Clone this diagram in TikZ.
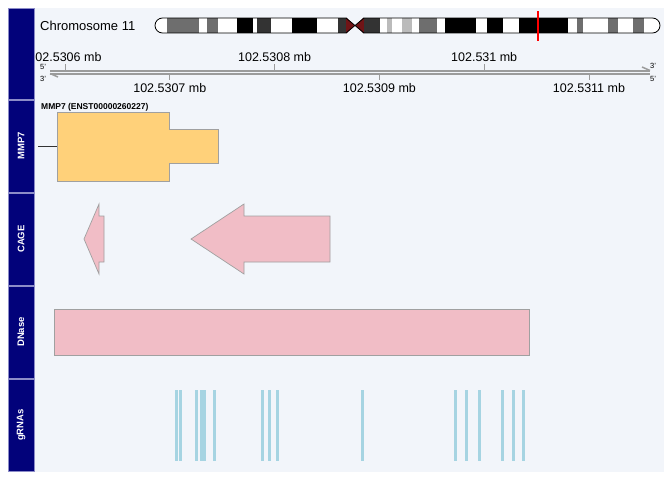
\documentclass[tikz,border=0pt]{standalone}
\usepackage{fontspec}
\setmainfont{Liberation Sans}
\definecolor{panel}{RGB}{242,245,250}
\definecolor{navy}{RGB}{2,2,122}
\definecolor{navyedge}{RGB}{140,140,200}
\definecolor{genefill}{RGB}{255,209,122}
\definecolor{pinkfill}{RGB}{241,189,198}
\definecolor{shapeedge}{RGB}{160,160,160}
\definecolor{grnacol}{RGB}{166,212,226}
\definecolor{axisgray}{RGB}{155,155,155}
\definecolor{bandA}{RGB}{110,110,110}
\definecolor{bandB}{RGB}{51,51,51}
\definecolor{bandC}{RGB}{187,187,187}
\definecolor{cenred}{RGB}{112,20,22}
\tikzset{
  sidebox/.style={fill=navy,draw=navyedge,line width=0.8pt},
  sidelabel/.style={text=white,font=\fontsize{9.5}{10}\selectfont\bfseries,rotate=90,inner sep=0pt},
  axlabel/.style={font=\fontsize{12.5}{14}\selectfont,inner sep=0pt},
  endlabel/.style={font=\fontsize{7.5}{8}\selectfont,inner sep=0pt},
  axline/.style={draw=axisgray,line width=2pt},
  tickmark/.style={draw=axisgray,line width=1pt},
  geneshape/.style={fill=genefill,draw=shapeedge,line width=0.7pt},
  pinkshape/.style={fill=pinkfill,draw=shapeedge,line width=0.7pt},
  grna/.style={fill=grnacol},
}
\begin{document}
\begin{tikzpicture}[x=1pt,y=-1pt]
\useasboundingbox (0,0) rectangle (672,480);
\fill[panel] (8,8) rectangle (664,472);

% chromosome ideogram
\node[anchor=west,inner sep=0pt,font=\fontsize{13}{15}\selectfont] (chrlab) at (40,25.5) {Chromosome 11};
\fill[white] (155,18) [rounded corners=7.5pt] rectangle (660,33);
\begin{scope}
\clip (155,18) [rounded corners=7.5pt] rectangle (660,33);
\fill[bandA] (167,18) rectangle (199,33);
\fill[bandA] (207,18) rectangle (218,33);
\fill[black] (237,18) rectangle (253,33);
\fill[bandB] (257,18) rectangle (271,33);
\fill[black] (292,18) rectangle (317,33);
\fill[bandB] (338,18) rectangle (346,33);
\fill[cenred] (346,18) rectangle (364,33);
\fill[bandB] (364,18) rectangle (380,33);
\fill[bandC] (387,18) rectangle (392,33);
\fill[bandC] (402,18) rectangle (412,33);
\fill[bandA] (419,18) rectangle (437,33);
\fill[black] (445,18) rectangle (476,33);
\fill[black] (487,18) rectangle (503,33);
\fill[black] (519,18) rectangle (568,33);
\fill[bandA] (577,18) rectangle (583,33);
\fill[bandA] (608,18) rectangle (618,33);
\fill[bandA] (633,18) rectangle (644,33);
\end{scope}
\draw[black,line width=0.8pt] (155,18) [rounded corners=7.5pt] rectangle (660,33);
\fill[panel] (346,17) -- (364,17) -- (355,25.5) -- cycle;
\fill[panel] (346,34) -- (364,34) -- (355,25.5) -- cycle;
\draw[black,line width=0.8pt] (346,18) -- (355,25.5) -- (364,18);
\draw[black,line width=0.8pt] (346,33) -- (355,25.5) -- (364,33);
\draw[red,line width=1.2pt] (538,11) -- (538,41);

% genome axis
\coordinate (axl1) at (50,70.5);
\coordinate (axr1) at (650,70.5);
\coordinate (axl2) at (50,73.5);
\coordinate (axr2) at (650,73.5);
\draw[axline] (axl1) -- (axr1);
\draw[axline] (axl2) -- (axr2);
\draw[axisgray,line width=1.5pt] (axr1) -- ++(-8,-3.5);
\draw[axisgray,line width=1.5pt] (axl2) -- ++(8,3.5);
\foreach \x in {65,274.6,484.2} \draw[tickmark] (\x,64) -- (\x,70);
\foreach \x in {169.8,379.4,589} \draw[tickmark] (\x,74) -- (\x,80);
\node[axlabel] (t1) at (65,57) {102.5306 mb};
\node[axlabel] (t3) at (274.6,57) {102.5308 mb};
\node[axlabel] (t5) at (484.2,57) {102.531 mb};
\node[axlabel] (t2) at (169.8,88) {102.5307 mb};
\node[axlabel] (t4) at (379.4,88) {102.5309 mb};
\node[axlabel] (t6) at (589,88) {102.5311 mb};
\node[endlabel] (l5) at (43,66.5) {5'};
\node[endlabel] (l3) at (43,78.5) {3'};
\node[endlabel] (r3) at (653,66) {3'};
\node[endlabel] (r5) at (653,78.5) {5'};

% sidebar
\draw[sidebox] (8,8) rectangle (34,99);
\draw[sidebox] (8,100) rectangle (34,192);
\draw[sidebox] (8,193) rectangle (34,285);
\draw[sidebox] (8,286) rectangle (34,378);
\draw[sidebox] (8,379) rectangle (34,471);
\node[sidelabel] (sMMP) at (21,146) {MMP7};
\node[sidelabel] (sCAGE) at (21,239) {CAGE};
\node[sidelabel] (sDN) at (21,332) {DNase};
\node[sidelabel] (sGR) at (21,425) {gRNAs};

% MMP7 gene
\node[anchor=west,inner sep=0pt,font=\fontsize{8.5}{10}\selectfont\bfseries] (glab) at (41,107) {MMP7 (ENST00000260227)};
\coordinate (gstart) at (38,146);
\coordinate (gbox) at (57,146);
\draw[black!80,line width=0.8pt] (gstart) -- (gbox);
\draw[geneshape] (57,112) -- (169,112) -- (169,129) -- (218,129) -- (218,163.5) -- (169,163.5) -- (169,181) -- (57,181) -- cycle;

% CAGE
\draw[pinkshape] (84,239) -- (99,204) -- (99,216) -- (104,216) -- (104,262) -- (99,262) -- (99,274) -- cycle;
\draw[pinkshape] (191,239) -- (244,204) -- (244,216) -- (330,216) -- (330,262) -- (244,262) -- (244,274) -- cycle;

% DNase
\draw[pinkshape] (54.5,309) rectangle (529,355.5);

% gRNAs
\foreach \x in {176,180.5,196,201.5,204.5,214,262,269.5,277,362,455,466,479,502,513,523}
  \fill[grna] (\x-1.5,390) rectangle (\x+1.5,461);
\end{tikzpicture}
\end{document}
